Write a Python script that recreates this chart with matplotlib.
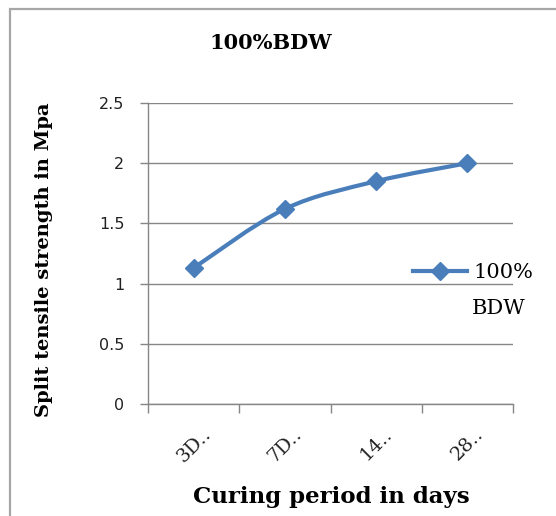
import matplotlib
matplotlib.use("Agg")
import matplotlib.pyplot as plt
from matplotlib.path import Path
from matplotlib.patches import PathPatch, Rectangle
from matplotlib.lines import Line2D
import numpy as np

# Data
categories = ["3D..", "7D..", "14..", "28.."]
strength = [1.13, 1.62, 1.85, 2.00]
series_name = ["100%", "BDW"]
chart_title = "100%BDW"
y_ticks = [0, 0.5, 1, 1.5, 2, 2.5]
y_tick_labels = ["0", "0.5", "1", "1.5", "2", "2.5"]

W, H = 556, 516
fig = plt.figure(figsize=(W / 100, H / 100), dpi=100)
fig.patch.set_facecolor("white")

def fx(px):
    return px / W

def fy(py):
    return 1 - py / H

# chart border
fig.patches.append(Rectangle((fx(10), -0.2), 1.5, fy(9) + 0.2, transform=fig.transFigure,
                             fill=False, edgecolor="#a6a6a6", linewidth=1.6, zorder=0))

ax = fig.add_axes([fx(148), fy(404), fx(513) - fx(148), fy(103) - fy(404)])
ax.set_facecolor("white")

serif = ["DejaVu Serif"]
blue = "#4a7ebb"
gray = "#868686"

x = np.arange(len(categories))
y = np.array(strength, dtype=float)

# smoothed curve through the points (Catmull-Rom style Bezier segments)
pts = np.column_stack([x, y])
verts = [tuple(pts[0])]
codes = [Path.MOVETO]
n = len(pts)
for i in range(n - 1):
    p0 = pts[i - 1] if i > 0 else pts[i]
    p1 = pts[i]
    p2 = pts[i + 1]
    p3 = pts[i + 2] if i + 2 < n else pts[i + 1]
    c1 = p1 + (p2 - p0) / 6.0
    c2 = p2 - (p3 - p1) / 6.0
    verts += [tuple(c1), tuple(c2), tuple(p2)]
    codes += [Path.CURVE4] * 3
ax.add_patch(PathPatch(Path(verts, codes), fill=False, edgecolor=blue, linewidth=3.0,
                       capstyle="round", joinstyle="round", zorder=3))
ax.plot(x, y, linestyle="none", marker="D", markersize=9, color=blue, zorder=4)

ax.set_xlim(-0.5, len(categories) - 0.5)
ax.set_ylim(0, 2.5)

# gridlines
ax.set_yticks(y_ticks)
ax.set_yticklabels(y_tick_labels, fontsize=11.5, family="DejaVu Sans", color="#222222")
ax.yaxis.grid(True, color=gray, linewidth=1.0)
ax.set_axisbelow(True)

ax.set_xticks(np.arange(len(categories) + 1) - 0.5)
ax.set_xticklabels([])
ax.set_xticks(x, minor=True)
ax.set_xticklabels(categories, minor=True, rotation=45, ha="center", va="top",
                   fontsize=14, family=serif, color="#222222")
ax.tick_params(axis="x", which="major", length=6.5, width=1.0, color=gray, direction="out")
ax.tick_params(axis="x", which="minor", length=0, pad=15)
ax.tick_params(axis="y", length=6, width=1.0, color=gray, direction="out", pad=11)

for s in ["top", "right"]:
    ax.spines[s].set_visible(False)
for s in ["left", "bottom"]:
    ax.spines[s].set_color(gray)
    ax.spines[s].set_linewidth(1.0)

# texts
fig.text(fx(271), fy(43), chart_title, ha="center", va="center", fontsize=15,
         fontweight="bold", family=serif)
fig.text(fx(44), fy(260), "Split tensile strength in Mpa", ha="center", va="center",
         rotation=90, fontsize=14, fontweight="bold", family=serif)
fig.text(fx(331), fy(497), "Curing period in days", ha="center", va="center",
         fontsize=16.5, fontweight="bold", family=serif)

# legend
handle = Line2D([], [], color=blue, linewidth=3.0, marker="D", markersize=9)
leg = fig.legend([handle], [series_name[0]], loc="center left",
                 bbox_to_anchor=(fx(413), fy(273)), frameon=False,
                 prop={"family": serif, "size": 15}, handlelength=2.6,
                 handletextpad=0.3, borderaxespad=0, borderpad=0)
fig.text(fx(472), fy(308), series_name[1], ha="left", va="center",
         fontsize=15, family=serif)

fig.savefig("out.png", dpi=100, facecolor="white")
